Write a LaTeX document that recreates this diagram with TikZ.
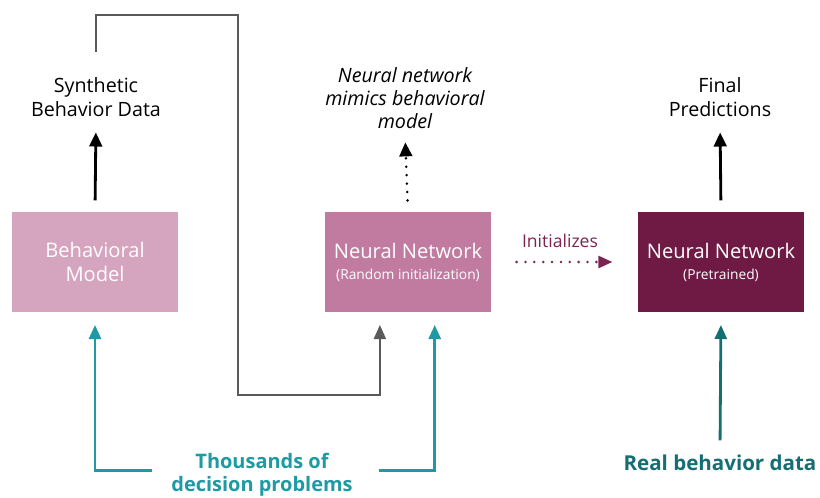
\documentclass[tikz,border=0pt]{standalone}
\usepackage{fontspec}
\setmainfont{Open Sans}
\usepackage{xcolor}
\usetikzlibrary{positioning,arrows.meta,calc}

\definecolor{bmpink}{HTML}{D5A4BF}
\definecolor{nnpink}{HTML}{C27BA0}
\definecolor{nnwine}{HTML}{6E1A45}
\definecolor{probteal}{HTML}{1E9AA5}
\definecolor{realteal}{HTML}{156E72}
\definecolor{loopgrey}{HTML}{5A5A5A}
\definecolor{initwine}{HTML}{7D2353}
\newcommand{\subtxt}{\fontsize{9.8}{11}\selectfont}

\begin{document}
\begin{tikzpicture}[x=0.025cm, y=-0.025cm,
    box/.style={minimum width=4.15cm, minimum height=2.5cm, inner sep=0pt, align=center,
                text=white, font=\fontsize{14.3}{17}\selectfont},
    lbl/.style={align=center, font=\fontsize{14}{16.6}\selectfont},
    blkarrow/.style={-{Triangle[length=10pt,width=9pt]}, line width=2pt, black},
    dotarrow/.style={-{Triangle[length=10pt,width=9pt]}, line width=2pt, black,
                     dash pattern=on 0pt off 6pt, line cap=round},
    greyarrow/.style={-{Triangle[length=10pt,width=8.5pt]}, line width=1.6pt, loopgrey},
    probarrow/.style={-{Triangle[length=10pt,width=8.5pt]}, line width=2pt, probteal},
    realarrow/.style={-{Triangle[length=10pt,width=8.5pt]}, line width=2pt, realteal},
    initarrow/.style={-{Triangle[length=10pt,width=8.5pt]}, line width=2pt, initwine,
                      dash pattern=on 0pt off 6.3pt, line cap=round}]
    \useasboundingbox (0,0) rectangle (820,498);

    % the three boxes
    \node[box, fill=bmpink] (bm) at (95,262) {Behavioral\\Model};
    \node[box, fill=nnpink] (nnr) at (408,262) {Neural Network\\[-2pt]{\subtxt (Random initialization)}};
    \node[box, fill=nnwine] (nnp) at (721,262) {Neural Network\\[-2pt]{\subtxt (Pretrained)}};

    % labels on top
    \node[lbl] (syn) at (96,97) {Synthetic\\Behavior Data};
    \node[lbl, font=\fontsize{14}{16.6}\selectfont\itshape] (mim) at (405,98) {Neural network\\mimics behavioral\\model};
    \node[lbl] (fin) at (720,97) {Final\\Predictions};

    % inputs at the bottom
    \node[lbl, text=probteal, font=\fontsize{14.2}{16.6}\selectfont\bfseries] (prob) at (262,475) {Thousands of\\decision problems};
    \node[lbl, text=realteal, font=\fontsize{14.6}{17}\selectfont\bfseries] (real) at (720,463) {Real behavior data};
    \node[lbl, text=initwine, font=\fontsize{12.5}{14}\selectfont] (init) at (560,241) {Initializes};

    % outputs
    \draw[blkarrow, shorten <=8pt, shorten >=8pt] (bm.north) -- (syn.south);
    \draw[dotarrow, shorten <=8pt, shorten >=6pt] (nnr.north) -- (mim.south);
    \draw[blkarrow, shorten <=8pt, shorten >=8pt] (nnp.north) -- (fin.south);

    % synthetic data loops back into the network
    \coordinate (looptop) at (238,15);
    \coordinate (loopbot) at (238,395);
    \draw[greyarrow, shorten <=15pt, shorten >=9pt] (syn.north) |- (looptop) -- (loopbot) -| ([xshift=-20pt]nnr.south);

    % decision problems feed both models
    \draw[probarrow, shorten <=10pt, shorten >=9pt] ([yshift=3pt]prob.west) -| (bm.south);
    \draw[probarrow, shorten <=15pt, shorten >=9pt] ([yshift=3pt]prob.east) -| ([xshift=19pt]nnr.south);

    % fine tuning
    \draw[realarrow, shorten <=7pt, shorten >=9pt] (real.north) -- (nnp.south);
    \draw[initarrow, shorten <=18pt, shorten >=18pt] (nnr.east) -- (nnp.west);
\end{tikzpicture}
\end{document}
